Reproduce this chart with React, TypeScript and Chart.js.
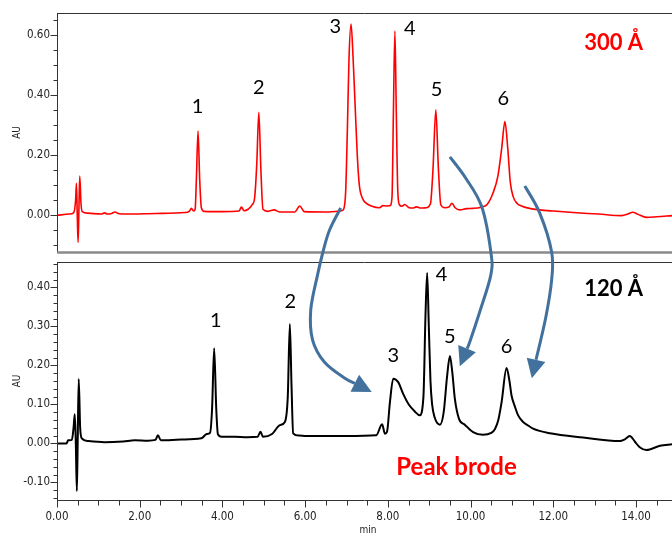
import React, { useEffect, useRef } from "react";
import { Chart, registerables } from "chart.js";

Chart.register(...registerables);

// ---------- axis ranges & ticks ----------
const TIME_MIN = 0;
const TIME_MAX = 14.87;
const TOP_AU_MIN = -0.122;
const TOP_AU_MAX = 0.672;
const BOTTOM_AU_MIN = -0.145;
const BOTTOM_AU_MAX = 0.465;

const xMajorTicks = [0, 2, 4, 6, 8, 10, 12, 14];
const xMinorStep = 0.5;
const topMajorTicks = [0, 0.2, 0.4, 0.6];
const topMinorStep = 0.05;
const bottomMajorTicks = [-0.1, 0, 0.1, 0.2, 0.3, 0.4];
const bottomMinorStep = 0.02;

// ---------- 300 Å trace (red) ----------
const topTimes = [
  0.0, 0.3, 0.4, 0.45, 0.47, 0.49, 0.51, 0.53, 0.55, 0.58, 0.61, 0.75, 1.07, 1.15, 1.22, 1.32, 1.4, 1.5, 1.7,
  2.4, 3.1, 3.2, 3.25, 3.3, 3.34, 3.37, 3.41, 3.45, 3.49, 3.56, 4.0, 4.4, 4.46, 4.52, 4.62, 4.72, 4.78, 4.83,
  4.88, 4.93, 4.98, 5.1, 5.25, 5.38, 5.75, 5.87, 5.98, 6.5, 6.88, 6.93, 6.98, 7.02, 7.06, 7.11, 7.16, 7.21,
  7.26, 7.31, 7.38, 7.46, 7.6, 7.8, 7.88, 7.95, 8.05, 8.1, 8.135, 8.17, 8.205, 8.24, 8.28, 8.34, 8.41, 8.5,
  8.6, 8.69, 8.8, 8.93, 9.03, 9.09, 9.16, 9.22, 9.28, 9.38, 9.48, 9.55, 9.62, 9.74, 9.9, 10.06, 10.25, 10.4,
  10.54, 10.66, 10.75, 10.83, 10.9, 10.96, 11.03, 11.12, 11.23, 11.45, 11.67, 12.0, 12.48, 13.1, 13.65, 13.8,
  13.92, 14.05, 14.25, 14.5, 14.87,
];
const topAU = [
  0.0, 0.004, 0.008, 0.05, 0.106, 0.0, -0.09, 0.02, 0.13, 0.04, 0.012, 0.007, 0.004, 0.008, 0.004, 0.006, 0.011,
  0.005, 0.004, 0.006, 0.009, 0.014, 0.023, 0.014, 0.02, 0.12, 0.28, 0.12, 0.025, 0.013, 0.012, 0.014, 0.027,
  0.015, 0.02, 0.035, 0.06, 0.17, 0.342, 0.15, 0.02, 0.013, 0.018, 0.011, 0.011, 0.031, 0.012, 0.011, 0.015,
  0.02, 0.08, 0.28, 0.52, 0.635, 0.52, 0.36, 0.2, 0.1, 0.058, 0.042, 0.031, 0.025, 0.032, 0.031, 0.032, 0.06,
  0.35, 0.612, 0.33, 0.08, 0.035, 0.03, 0.036, 0.026, 0.024, 0.028, 0.024, 0.025, 0.038, 0.15, 0.35, 0.16,
  0.035, 0.025, 0.028, 0.04, 0.026, 0.018, 0.022, 0.023, 0.027, 0.036, 0.073, 0.13, 0.22, 0.311, 0.22, 0.11,
  0.062, 0.04, 0.031, 0.022, 0.018, 0.014, 0.009, 0.004, -0.001, 0.004, 0.01, 0.003, -0.007, -0.005, -0.001,
];

// ---------- 120 Å trace (black) ----------
const bottomTimes = [
  0.0, 0.23, 0.27, 0.36, 0.4, 0.43, 0.455, 0.48, 0.5, 0.525, 0.56, 0.6, 0.75, 1.15, 1.6, 1.88, 2.2, 2.38, 2.44,
  2.51, 3.0, 3.49, 3.62, 3.7, 3.75, 3.8, 3.85, 3.89, 3.98, 4.3, 4.6, 4.85, 4.92, 4.98, 5.2, 5.39, 5.51, 5.58,
  5.63, 5.67, 5.71, 5.85, 6.03, 7.0, 7.72, 7.86, 7.93, 7.98, 8.05, 8.13, 8.25, 8.37, 8.51, 8.65, 8.77, 8.86,
  8.91, 8.95, 8.99, 9.03, 9.07, 9.13, 9.26, 9.35, 9.43, 9.5, 9.56, 9.62, 9.72, 9.86, 10.06, 10.3, 10.5, 10.59,
  10.67, 10.75, 10.87, 10.94, 10.99, 11.07, 11.15, 11.27, 11.39, 11.51, 11.92, 12.72, 13.61, 13.72, 13.85,
  13.97, 14.09, 14.25, 14.58, 14.87,
];
const bottomAU = [
  0.0, 0.0, 0.008, 0.009, 0.04, 0.075, 0.0, -0.122, 0.0, 0.165, 0.04, 0.013, 0.006, 0.003, 0.005, 0.008, 0.007,
  0.009, 0.021, 0.008, 0.01, 0.013, 0.024, 0.027, 0.09, 0.244, 0.09, 0.024, 0.017, 0.017, 0.016, 0.017, 0.03,
  0.017, 0.024, 0.047, 0.055, 0.12, 0.306, 0.15, 0.026, 0.02, 0.019, 0.019, 0.021, 0.049, 0.025, 0.03, 0.106,
  0.166, 0.157, 0.127, 0.099, 0.082, 0.072, 0.12, 0.33, 0.437, 0.3, 0.16, 0.1, 0.067, 0.048, 0.08, 0.17,
  0.224, 0.18, 0.114, 0.063, 0.048, 0.029, 0.022, 0.027, 0.037, 0.06, 0.106, 0.193, 0.16, 0.123, 0.095, 0.072,
  0.055, 0.046, 0.038, 0.026, 0.015, 0.006, 0.01, 0.019, 0.005, -0.01, -0.017, -0.006, -0.002,
];

// ---------- annotations ----------
const peakNames = ["1", "2", "3", "4", "5", "6"];
const topPeakLabelTime = [3.4, 4.88, 6.73, 8.53, 9.18, 10.79];
const topPeakLabelAU = [0.36, 0.426, 0.627, 0.621, 0.419, 0.389];
const bottomPeakLabelTime = [3.84, 5.64, 8.13, 9.3, 9.5, 10.87];
const bottomPeakLabelAU = [0.314, 0.363, 0.224, 0.432, 0.273, 0.248];

const topTitle = { text: "300 Å", time: 13.46, au: 0.571, size: 22 };
const bottomTitle = { text: "120 Å", time: 13.46, au: 0.395, size: 22 };
const noteLabel = { text: "Peak brode", time: 9.66, au: -0.06, size: 24 };

// arrows: [panel, time, AU]
const arrowPeak3 = [
  ["top", 6.86, 0.024], ["top", 6.59, -0.049], ["top", 6.43, -0.122], ["bottom", 6.3, 0.432],
  ["bottom", 6.135, 0.342], ["bottom", 6.18, 0.265], ["bottom", 6.47, 0.208], ["bottom", 6.96, 0.167],
  ["bottom", 7.61, 0.132],
];
const arrowPeak5 = [
  ["top", 9.5, 0.194], ["top", 9.88, 0.124], ["top", 10.27, 0.028], ["top", 10.49, -0.122],
  ["bottom", 10.49, 0.432], ["bottom", 10.22, 0.337], ["bottom", 9.98, 0.26], ["bottom", 9.74, 0.198],
];
const arrowPeak6 = [
  ["top", 11.31, 0.097], ["top", 11.67, 0.008], ["top", 11.96, -0.122], ["bottom", 11.96, 0.419],
  ["bottom", 11.82, 0.324], ["bottom", 11.48, 0.167],
];
const arrowList = [arrowPeak3, arrowPeak5, arrowPeak6];

// ---------- styling ----------
const W = 672;
const H = 534;
const TOP_H = 256;
const BOTTOM_H = H - TOP_H;
const AXIS_W = 57;
const TICK_FONT = '"Liberation Sans Narrow", "DejaVu Sans Condensed", "Liberation Sans", Arial, sans-serif';
const ANNOT_FONT = 'Lato, "Open Sans", "Liberation Sans", sans-serif';
const ARROW_COLOR = "#41719c";

function makeTicks(min: number, max: number, step: number) {
  const out: { value: number }[] = [];
  const k0 = Math.ceil(min / step - 1e-9);
  const k1 = Math.floor(max / step + 1e-9);
  for (let k = k0; k <= k1; k++) out.push({ value: Math.round(k * step * 1e6) / 1e6 });
  return out;
}
const isMajor = (v: number, majors: number[]) => majors.some((m) => Math.abs(m - v) < 1e-6);

function frame(opts: any) {
  return {
    id: "frame" + opts.name,
    afterDraw(chart: any) {
      const { ctx, chartArea: a, scales } = chart;
      ctx.save();
      ctx.strokeStyle = "#333";
      ctx.lineWidth = 1;
      ctx.beginPath();
      const L = Math.round(a.left) + 0.5;
      const T = Math.round(a.top) + 0.5;
      ctx.moveTo(L, a.top);
      ctx.lineTo(L, a.bottom);
      ctx.moveTo(a.left, T);
      ctx.lineTo(a.right, T);
      for (const t of scales.y.ticks) {
        const py = Math.round(scales.y.getPixelForValue(t.value)) + 0.5;
        const len = isMajor(t.value, opts.yMajors) ? 7 : 4;
        ctx.moveTo(L - len, py);
        ctx.lineTo(L, py);
      }
      if (opts.xAxis) {
        const B = Math.round(a.bottom) + 0.5;
        ctx.moveTo(a.left, B);
        ctx.lineTo(a.right, B);
        for (const t of scales.x.ticks) {
          const px = Math.round(scales.x.getPixelForValue(t.value)) + 0.5;
          const len = isMajor(t.value, xMajorTicks) ? 7 : 5;
          ctx.moveTo(px, B);
          ctx.lineTo(px, B + len);
        }
      }
      ctx.stroke();
      if (opts.grayBottom) {
        ctx.strokeStyle = "#8a8a8a";
        ctx.lineWidth = 2.5;
        ctx.beginPath();
        ctx.moveTo(a.left, a.bottom + 0.5);
        ctx.lineTo(a.right, a.bottom + 0.5);
        ctx.stroke();
      }
      // axis titles
      ctx.fillStyle = "#222";
      ctx.font = "10px " + TICK_FONT;
      ctx.textAlign = "center";
      ctx.textBaseline = "middle";
      ctx.save();
      ctx.translate(17, (a.top + a.bottom) / 2);
      ctx.rotate(-Math.PI / 2);
      ctx.fillText("AU", 0, 0);
      ctx.restore();
      if (opts.xAxis) {
        ctx.fillText("min", (a.left + a.right) / 2 + 3.5, a.bottom + 30);
      }
      // annotations
      const sx = scales.x, sy = scales.y;
      ctx.font = "20px " + ANNOT_FONT;
      ctx.fillStyle = "#000";
      opts.labelTimes.forEach((t: number, i: number) => {
        ctx.fillText(peakNames[i], sx.getPixelForValue(t), sy.getPixelForValue(opts.labelAU[i]));
      });
      for (const b of opts.bold) {
        ctx.font = "700 " + b.size + "px " + ANNOT_FONT;
        ctx.fillStyle = b.color;
        ctx.fillText(b.text, sx.getPixelForValue(b.time), sy.getPixelForValue(b.au));
      }
      ctx.restore();
    },
  };
}

function yAxis(min: number, max: number, step: number, majors: number[]) {
  return {
    type: "linear",
    min,
    max,
    afterBuildTicks: (s: any) => {
      s.ticks = makeTicks(min, max, step);
    },
    afterFit: (s: any) => {
      s.width = AXIS_W;
      s.paddingTop = 0;
      s.paddingBottom = 0;
      s.paddingLeft = 0;
      s.paddingRight = 0;
    },
    grid: { display: false, drawTicks: false },
    border: { display: false },
    ticks: {
      autoSkip: false,
      padding: 7,
      color: "#222",
      font: { family: TICK_FONT, size: 11.5 },
      callback: (v: number) => (isMajor(v, majors) ? v.toFixed(2) : ""),
    },
  };
}

function makeDataset(times: number[], values: number[], color: string, width: number) {
  return {
    data: times.map((t, i) => ({ x: t, y: values[i] })),
    borderColor: color,
    borderWidth: width,
    pointRadius: 0,
    fill: false,
    cubicInterpolationMode: "monotone",
  };
}

export default function App() {
  const topRef = useRef<HTMLCanvasElement>(null);
  const botRef = useRef<HTMLCanvasElement>(null);
  const ovRef = useRef<HTMLCanvasElement>(null);

  useEffect(() => {
    document.body.style.margin = "0";
    const common = {
      responsive: false,
      animation: false,
      devicePixelRatio: 1,
      events: [],
      plugins: { legend: { display: false }, tooltip: { enabled: false } },
    };
    const topChart = new Chart(topRef.current!, {
      type: "line",
      data: { datasets: [makeDataset(topTimes, topAU, "#ff0000", 1.6) as any] },
      options: {
        ...common,
        layout: { padding: { top: 13, bottom: 4, left: 0, right: 0 } },
        scales: {
          x: { type: "linear", min: TIME_MIN, max: TIME_MAX, display: false },
          y: yAxis(TOP_AU_MIN, TOP_AU_MAX, topMinorStep, topMajorTicks) as any,
        },
      } as any,
      plugins: [
        frame({
          name: "top",
          yMajors: topMajorTicks,
          xAxis: false,
          grayBottom: true,
          labelTimes: topPeakLabelTime,
          labelAU: topPeakLabelAU,
          bold: [{ ...topTitle, color: "#ff0000" }],
        }),
      ],
    });
    const botChart = new Chart(botRef.current!, {
      type: "line",
      data: { datasets: [makeDataset(bottomTimes, bottomAU, "#000000", 2) as any] },
      options: {
        ...common,
        layout: { padding: { top: 6, bottom: 0, left: 0, right: 0 } },
        scales: {
          x: {
            type: "linear",
            min: TIME_MIN,
            max: TIME_MAX,
            afterBuildTicks: (s: any) => {
              s.ticks = makeTicks(TIME_MIN, TIME_MAX, xMinorStep);
            },
            afterFit: (s: any) => {
              s.height = 34;
              s.paddingLeft = 0;
              s.paddingRight = 0;
            },
            grid: { display: false, drawTicks: false },
            border: { display: false },
            ticks: {
              autoSkip: false,
              maxRotation: 0,
              minRotation: 0,
              padding: 10,
              color: "#222",
              font: { family: TICK_FONT, size: 11.5 },
              callback: (v: number) => (isMajor(v, xMajorTicks) ? v.toFixed(2) : ""),
            },
          },
          y: yAxis(BOTTOM_AU_MIN, BOTTOM_AU_MAX, bottomMinorStep, bottomMajorTicks) as any,
        },
      } as any,
      plugins: [
        frame({
          name: "bottom",
          yMajors: bottomMajorTicks,
          xAxis: true,
          grayBottom: false,
          labelTimes: bottomPeakLabelTime,
          labelAU: bottomPeakLabelAU,
          bold: [
            { ...bottomTitle, color: "#000000" },
            { ...noteLabel, color: "#ff0000" },
          ],
        }),
      ],
    });

    // arrows overlay
    const ov = ovRef.current!;
    const ctx = ov.getContext("2d")!;
    ctx.clearRect(0, 0, W, H);
    ctx.strokeStyle = ARROW_COLOR;
    ctx.fillStyle = ARROW_COLOR;
    ctx.lineWidth = 3;
    const HEAD_LEN = 19;
    const HEAD_HW = 9.5;
    for (const arrow of arrowList) {
      const pts = arrow.map(([panel, t, v]: any) => {
        const ch: any = panel === "top" ? topChart : botChart;
        return {
          x: ch.scales.x.getPixelForValue(t),
          y: ch.scales.y.getPixelForValue(v) + (panel === "top" ? 0 : TOP_H),
        };
      });
      const tip = pts[pts.length - 1];
      const prev = pts[pts.length - 2];
      const dx = tip.x - prev.x, dy = tip.y - prev.y;
      const d = Math.hypot(dx, dy);
      const ux = dx / d, uy = dy / d;
      const base = { x: tip.x - ux * HEAD_LEN, y: tip.y - uy * HEAD_LEN };
      const lp = [...pts.slice(0, -1), base];
      ctx.beginPath();
      ctx.moveTo(lp[0].x, lp[0].y);
      for (let i = 0; i < lp.length - 1; i++) {
        const p0 = lp[i - 1] || lp[i];
        const p1 = lp[i];
        const p2 = lp[i + 1];
        const p3 = lp[i + 2] || p2;
        ctx.bezierCurveTo(
          p1.x + (p2.x - p0.x) / 6, p1.y + (p2.y - p0.y) / 6,
          p2.x - (p3.x - p1.x) / 6, p2.y - (p3.y - p1.y) / 6,
          p2.x, p2.y
        );
      }
      ctx.stroke();
      ctx.beginPath();
      ctx.moveTo(tip.x, tip.y);
      ctx.lineTo(base.x - uy * HEAD_HW, base.y + ux * HEAD_HW);
      ctx.lineTo(base.x + uy * HEAD_HW, base.y - ux * HEAD_HW);
      ctx.closePath();
      ctx.fill();
    }

    return () => {
      topChart.destroy();
      botChart.destroy();
      ctx.clearRect(0, 0, W, H);
    };
  }, []);

  return (
    <div style={{ position: "relative", width: W, height: H, background: "#fff" }}>
      <canvas ref={topRef} width={W} height={TOP_H} style={{ position: "absolute", left: 0, top: 0, width: W, height: TOP_H }} />
      <canvas ref={botRef} width={W} height={BOTTOM_H} style={{ position: "absolute", left: 0, top: TOP_H, width: W, height: BOTTOM_H }} />
      <canvas ref={ovRef} width={W} height={H} style={{ position: "absolute", left: 0, top: 0, width: W, height: H, pointerEvents: "none" }} />
    </div>
  );
}
